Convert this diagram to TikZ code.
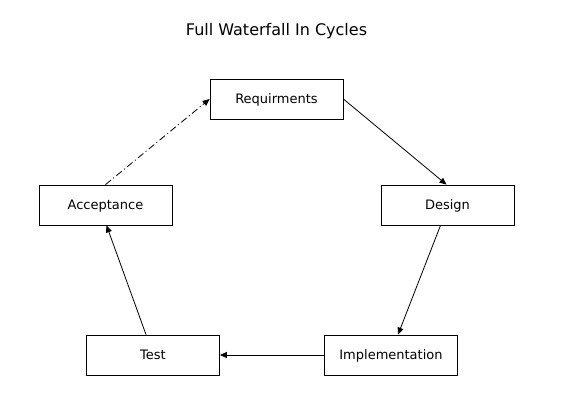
\documentclass[tikz,border=0pt]{standalone}
\usepackage{fontspec}
\setmainfont{DejaVu Sans}
\usetikzlibrary{arrows.meta}

\tikzset{
  stage/.style={draw, line width=0.8pt, minimum width=133pt, minimum height=40pt,
    inner sep=0pt, text height=9.5pt, text depth=0pt, font=\fontsize{13}{15}\selectfont},
  flow/.style={line width=0.8pt, -{Triangle[length=7pt,width=6pt]}},
  loopback/.style={flow, dash pattern=on 7pt off 3pt on 1pt off 3pt}
}

\begin{document}
\begin{tikzpicture}[x=1pt,y=-1pt]
\useasboundingbox (0,0) rectangle (564,408);

\node[font=\fontsize{16}{19}\selectfont] (title) at (276.5,31) {Full Waterfall In Cycles};

\node[stage] (req) at (276.5,99) {Requirments};
\node[stage] (des) at (447.5,205) {Design};
\node[stage] (imp) at (391,355) {Implementation};
\node[stage] (tst) at (153,355) {Test};
\node[stage] (acc) at (105.5,205) {Acceptance};

\draw[flow] (req.east) -- ([xshift=-1pt]des.north);
\draw[flow] ([xshift=-7pt]des.south) -- ([xshift=7pt]imp.north);
\draw[flow] (imp.west) -- (tst.east);
\draw[flow] ([xshift=-7pt]tst.north) -- ([xshift=1pt]acc.south);
\draw[loopback] (acc.north) -- (req.west);

\end{tikzpicture}
\end{document}
